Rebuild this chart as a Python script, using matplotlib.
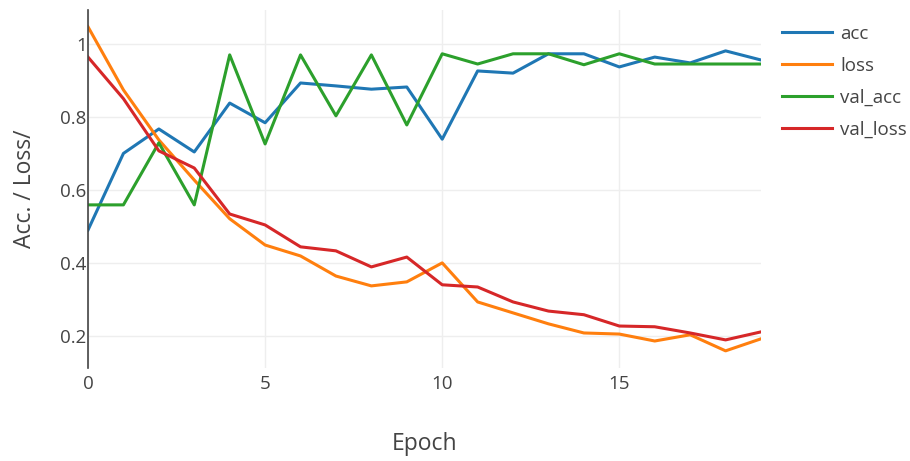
import matplotlib.pyplot as plt

plt.rcParams['font.family'] = ['Open Sans', 'DejaVu Sans']

# epoch 数据
epochs = list(range(20))
acc = [0.49, 0.70, 0.767, 0.704, 0.838, 0.784, 0.893, 0.885, 0.876, 0.882,
       0.739, 0.926, 0.920, 0.973, 0.973, 0.937, 0.964, 0.948, 0.981, 0.956]
loss = [1.047, 0.874, 0.737, 0.627, 0.521, 0.449, 0.419, 0.364, 0.337, 0.348,
        0.400, 0.293, 0.263, 0.233, 0.208, 0.205, 0.186, 0.203, 0.159, 0.192]
val_acc = [0.559, 0.559, 0.729, 0.559, 0.970, 0.726, 0.970, 0.803, 0.970, 0.778,
           0.973, 0.945, 0.973, 0.973, 0.943, 0.973, 0.945, 0.945, 0.945, 0.945]
val_loss = [0.964, 0.850, 0.707, 0.660, 0.534, 0.504, 0.444, 0.433, 0.389, 0.416,
            0.340, 0.334, 0.293, 0.268, 0.258, 0.227, 0.225, 0.208, 0.189, 0.211]

series = [('acc', acc, '#1f77b4'), ('loss', loss, '#ff7f0e'),
          ('val_acc', val_acc, '#2ca02c'), ('val_loss', val_loss, '#d62728')]

fig = plt.figure(figsize=(9.1, 4.61), dpi=100)
ax = fig.add_axes([88 / 910, 1 - 368 / 461, (761 - 88) / 910, (368 - 10) / 461])

for name, vals, color in series:
    ax.plot(epochs, vals, color=color, lw=2.2, label=name)

ax.set_xlim(0, 19)
ax.set_ylim(0.112, 1.093)
ax.set_xticks([0, 5, 10, 15])
ax.set_yticks([0.2, 0.4, 0.6, 0.8, 1.0])
ax.set_yticklabels(['0.2', '0.4', '0.6', '0.8', '1'])
ax.grid(True, color='#eeeeee', lw=1)
ax.set_axisbelow(True)
for s in ['top', 'right', 'bottom']:
    ax.spines[s].set_visible(False)
ax.spines['left'].set_color('#444444')
ax.spines['left'].set_linewidth(1.2)
ax.tick_params(length=0, labelsize=13.5, labelcolor='#444444')
ax.tick_params(axis='y', pad=1)
ax.tick_params(axis='x', pad=5)

ax.set_xlabel('Epoch', fontsize=16.5, color='#444444', labelpad=28)
ax.set_ylabel('Acc. / Loss/', fontsize=16.5, color='#444444', labelpad=17)

fig.legend(loc='upper left', bbox_to_anchor=(765 / 910, 1 - 8 / 461),
           frameon=False, fontsize=13.5, labelcolor='#444444',
           handlelength=2.67, labelspacing=0.75, handletextpad=0.43)

fig.savefig('out.png', dpi=100)
